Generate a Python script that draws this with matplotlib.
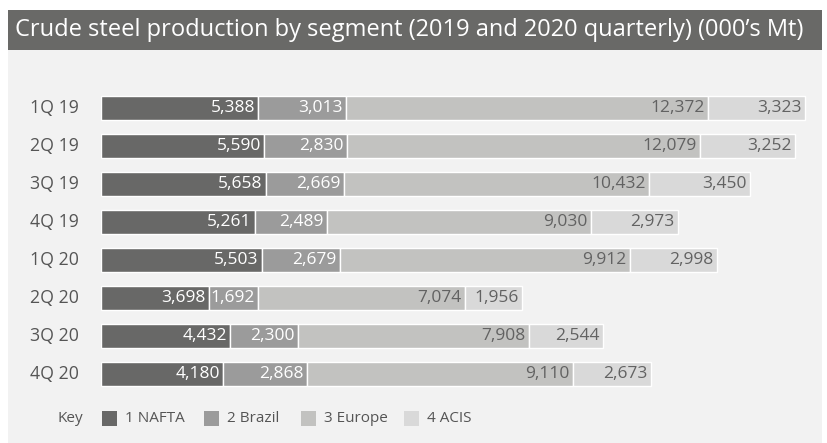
import matplotlib
matplotlib.use("Agg")
import matplotlib.pyplot as plt
from matplotlib.patches import Rectangle

# Quarterly crude steel production by segment (000's Mt)
quarters = ["1Q 19", "2Q 19", "3Q 19", "4Q 19", "1Q 20", "2Q 20", "3Q 20", "4Q 20"]
nafta = [5388, 5590, 5658, 5261, 5503, 3698, 4432, 4180]
brazil = [3013, 2830, 2669, 2489, 2679, 1692, 2300, 2868]
europe = [12372, 12079, 10432, 9030, 9912, 7074, 7908, 9110]
acis = [3323, 3252, 3450, 2973, 2998, 1956, 2544, 2673]
segments = ["1 NAFTA", "2 Brazil", "3 Europe", "4 ACIS"]

colors = ["#686867", "#9b9b9b", "#c2c2c0", "#d9d9d9"]
label_colors = ["#ffffff", "#ffffff", "#626262", "#626262"]

W, H = 827, 443
plt.rcParams["font.family"] = ["Open Sans", "DejaVu Sans"]
fig = plt.figure(figsize=(W / 100, H / 100), dpi=100)
fig.patch.set_facecolor("white")


def fx(px):
    return px / W


def fy(py):
    return 1 - py / H


# background panel and title bar
fig.patches.append(Rectangle((fx(8), fy(443)), fx(822) - fx(8), fy(50) - fy(443),
                             transform=fig.transFigure, facecolor="#f2f2f2",
                             edgecolor="none", zorder=-2))
fig.patches.append(Rectangle((fx(8), fy(50)), fx(822) - fx(8), fy(10) - fy(50),
                             transform=fig.transFigure, facecolor="#696967",
                             edgecolor="none", zorder=-2))
fig.text(fx(15), fy(30.5), "Crude steel production by segment (2019 and 2020 quarterly) (000\u2019s Mt)",
         color="white", fontsize=17, ha="left", va="center")

# bar area
left_px, right_px, top_px, bot_px = 101, 811, 89, 393
ax = fig.add_axes([fx(left_px), fy(bot_px), fx(right_px) - fx(left_px), fy(top_px) - fy(bot_px)])
ax.set_zorder(5)
ax.set_facecolor("none")
ax.set_xlim(0, 24300)
ax.set_ylim(len(quarters) - 0.5, -0.5)
for s in ax.spines.values():
    s.set_visible(False)
ax.set_xticks([])
ax.set_yticks([])

series = [nafta, brazil, europe, acis]
ypos = list(range(len(quarters)))
lefts = [0] * len(quarters)
px_per_unit = (right_px - left_px) / 24300
for vals, col, lcol in zip(series, colors, label_colors):
    ax.barh(ypos, vals, left=lefts, height=0.61, color=col,
            edgecolor="white", linewidth=1.0)
    for i, v in enumerate(vals):
        end = lefts[i] + v
        ax.text(end - 3.5 / px_per_unit, i, f"{v:,}", ha="right", va="center",
                color=lcol, fontsize=12.5)
    lefts = [a + b for a, b in zip(lefts, vals)]

for i, q in enumerate(quarters):
    fig.text(fx(30), fy(108 + 38.0 * i), q, ha="left", va="center",
             color="#555555", fontsize=12.8)

# key
fig.text(fx(57), fy(418), "Key", ha="left", va="center", color="#555555", fontsize=11)
sq_x = [102, 204, 301, 404]
for x, col, name in zip(sq_x, colors, segments):
    fig.patches.append(Rectangle((fx(x), fy(426)), fx(15), fy(411) - fy(426),
                                 transform=fig.transFigure, facecolor=col,
                                 edgecolor="none"))
    fig.text(fx(x + 23), fy(418), name, ha="left", va="center",
             color="#555555", fontsize=11)

fig.savefig("out.png", dpi=100, facecolor=fig.get_facecolor())
